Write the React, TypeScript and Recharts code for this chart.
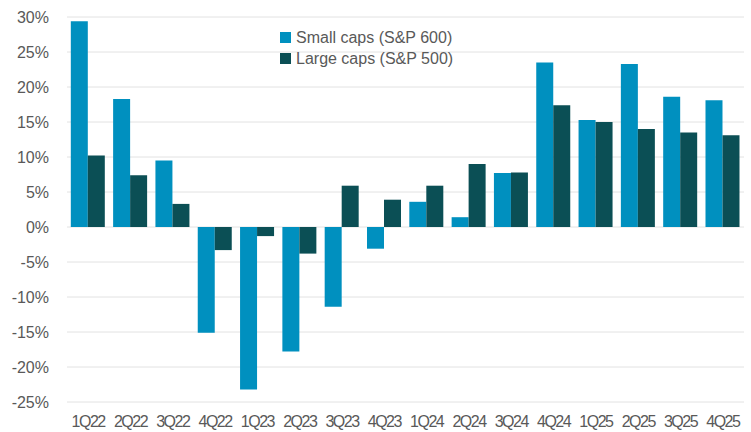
import React from 'react';
import { BarChart, Bar, XAxis, YAxis, CartesianGrid } from 'recharts';

const quarters = [
  '1Q22', '2Q22', '3Q22', '4Q22',
  '1Q23', '2Q23', '3Q23', '4Q23',
  '1Q24', '2Q24', '3Q24', '4Q24',
  '1Q25', '2Q25', '3Q25', '4Q25',
];

const smallCaps = [29.4, 18.3, 9.5, -15.1, -23.2, -17.8, -11.4, -3.1, 3.6, 1.4, 7.7, 23.5, 15.3, 23.3, 18.6, 18.1];
const largeCaps = [10.2, 7.4, 3.3, -3.3, -1.3, -3.8, 5.9, 3.9, 5.9, 9.0, 7.8, 17.4, 15.0, 14.0, 13.5, 13.1];

const yTicks = [-25, -20, -15, -10, -5, 0, 5, 10, 15, 20, 25, 30];

const SMALL_COLOR = '#0090bf';
const LARGE_COLOR = '#0b4f55';
const TEXT_COLOR = '#595959';
const FONT = '"Liberation Sans", Arial, sans-serif';

const data = quarters.map((q, i) => ({
  quarter: q,
  small: smallCaps[i],
  large: largeCaps[i],
}));

const legendItems = [
  { label: 'Small caps (S&P 600)', color: SMALL_COLOR },
  { label: 'Large caps (S&P 500)', color: LARGE_COLOR },
];

// legend drawn as an overlay so it doesn't eat into the plot area
const ChartLegend = () => (
  <div
    style={{
      position: 'absolute',
      left: 280,
      top: 27,
      fontFamily: FONT,
      fontSize: 16,
      color: TEXT_COLOR,
      whiteSpace: 'nowrap',
    }}
  >
    {legendItems.map((item) => (
      <div key={item.label} style={{ display: 'flex', alignItems: 'center', height: 21 }}>
        <span style={{ width: 11, height: 11, background: item.color, marginRight: 5, display: 'inline-block' }} />
        <span>{item.label}</span>
      </div>
    ))}
  </div>
);

export default function App() {
  return (
    <div style={{ position: 'absolute', left: 0, top: 0, width: 751, height: 432, background: '#fff' }}>
      <BarChart
        width={751}
        height={432}
        data={data}
        margin={{ top: 17, right: 7, bottom: 0, left: 0 }}
        barCategoryGap="9%"
        barGap={0}
      >
        <CartesianGrid vertical={false} stroke="#e2e2e2" strokeWidth={1} />
        <XAxis
          dataKey="quarter"
          height={30}
          axisLine={false}
          tickLine={false}
          tickSize={0}
          tickMargin={14}
          interval={0}
          tick={{ fill: TEXT_COLOR, fontSize: 16, fontFamily: FONT, letterSpacing: -1.5 }}
        />
        <YAxis
          width={67}
          domain={[-25, 30]}
          ticks={yTicks}
          axisLine={false}
          tickLine={false}
          tickSize={0}
          tickMargin={18}
          tickFormatter={(v: number) => `${v}%`}
          tick={{ fill: TEXT_COLOR, fontSize: 16, fontFamily: FONT }}
        />
        <Bar dataKey="small" name="Small caps (S&P 600)" fill={SMALL_COLOR} isAnimationActive={false} />
        <Bar dataKey="large" name="Large caps (S&P 500)" fill={LARGE_COLOR} isAnimationActive={false} />
      </BarChart>
      <ChartLegend />
    </div>
  );
}
